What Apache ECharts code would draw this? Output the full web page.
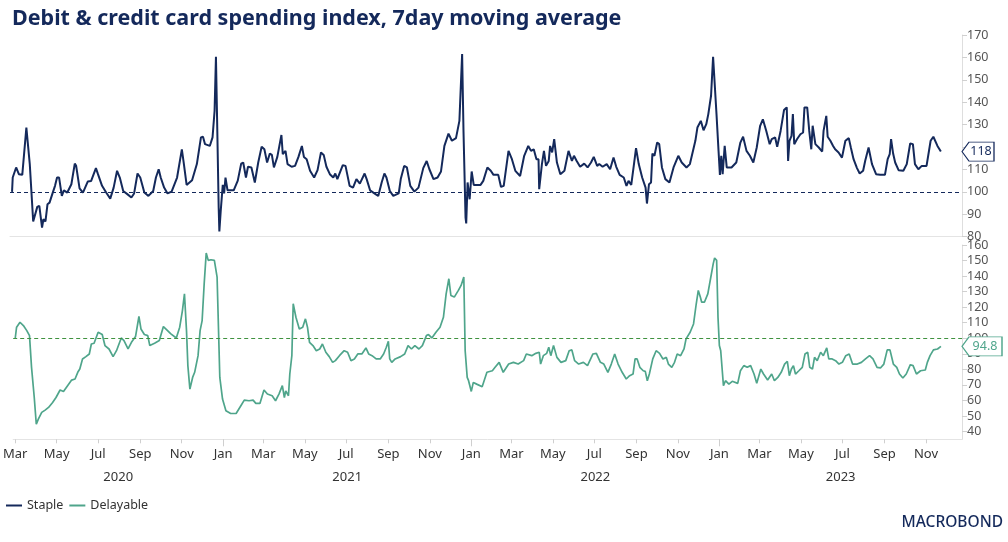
<!DOCTYPE html>
<html>
<head>
<meta charset="utf-8">
<script src="https://cdn.jsdelivr.net/npm/echarts@6/dist/echarts.min.js"></script>
<style>
html,body{margin:0;padding:0;background:#fff;}
#c{width:1008px;height:542px;}
</style>
</head>
<body>
<div id="c"></div>
<script>
const titleText = 'Debit & credit card spending index, 7day moving average';
const seriesNames = ['Staple', 'Delayable'];
const axisRange = ['2020-02-27', '2023-12-24'];
const monthTicks = ['2020-03-01','2020-05-01','2020-07-01','2020-09-01','2020-11-01',
  '2021-01-01','2021-03-01','2021-05-01','2021-07-01','2021-09-01','2021-11-01',
  '2022-01-01','2022-03-01','2022-05-01','2022-07-01','2022-09-01','2022-11-01',
  '2023-01-01','2023-03-01','2023-05-01','2023-07-01','2023-09-01','2023-11-01'];
const monthNames = ['Jan','Feb','Mar','Apr','May','Jun','Jul','Aug','Sep','Oct','Nov','Dec'];
const yearLabels = ['2020','2021','2022','2023'];
const yearStarts = ['2021-01-01','2022-01-01','2023-01-01'];
const topTicks = [80,90,100,110,120,130,140,150,160,170];
const bottomTicks = [40,50,60,70,80,90,100,110,120,130,140,150,160];
const refLevel = 100;

const staple = [
['2020-03-01',100],['2020-03-02',106.4],['2020-03-07',110.9],['2020-03-11',107.9],['2020-03-16',107.6],['2020-03-22',128.7],['2020-03-27',112.4],['2020-04-01',86.8],['2020-04-03',86.8],['2020-04-07',93.3],['2020-04-10',93.8],['2020-04-14',84.1],['2020-04-16',87.8],['2020-04-19',86.8],['2020-04-22',94.5],['2020-04-25',95.2],['2020-04-29',99],
['2020-05-03',102.7],['2020-05-06',106.4],['2020-05-09',106.4],['2020-05-13',98.2],['2020-05-16',100.7],['2020-05-21',99.7],['2020-05-27',103.4],['2020-06-01',112.6],['2020-06-03',111.6],['2020-06-08',101.6],['2020-06-13',99.7],['2020-06-20',104.6],['2020-06-25',104.9],
['2020-07-02',110.6],['2020-07-05',107.9],['2020-07-11',102.7],['2020-07-17',99.7],['2020-07-23',97],['2020-07-28',101.9],['2020-08-02',109.4],['2020-08-06',106.4],['2020-08-11',100.4],['2020-08-17',99],['2020-08-23',97.5],['2020-08-27',99.3],
['2020-09-01',108.2],['2020-09-05',106.4],['2020-09-11',99.7],['2020-09-17',98.2],['2020-09-24',100.4],['2020-09-28',106.4],['2020-10-02',110.1],['2020-10-05',106.4],['2020-10-10',101.9],['2020-10-15',99.3],['2020-10-21',100.1],['2020-10-29',106.4],
['2020-11-05',119],['2020-11-08',112.4],['2020-11-12',103.1],['2020-11-20',105.2],['2020-11-27',112.4],['2020-12-03',124.3],['2020-12-06',124.6],['2020-12-09',121.3],['2020-12-16',120.5],['2020-12-20',124.3],['2020-12-23',136.2],['2020-12-25',160.3],['2020-12-27',127.2],['2020-12-29',93],['2020-12-30',82.3],
['2021-01-01',91.5],['2021-01-04',103.1],['2021-01-06',99.3],['2021-01-08',106.4],['2021-01-11',100.7],['2021-01-20',100.7],['2021-01-26',105],['2021-01-31',112.6],['2021-02-03',113.1],['2021-02-07',106.4],['2021-02-10',111.2],['2021-02-15',110.9],['2021-02-20',104.2],['2021-02-25',113.1],
['2021-03-02',120.1],['2021-03-06',119],['2021-03-10',113.1],['2021-03-14',117.1],['2021-03-17',116.5],['2021-03-20',110.9],['2021-03-25',115.6],['2021-03-28',120.5],['2021-03-31',125.4],['2021-04-02',116.8],['2021-04-06',118.3],['2021-04-09',112.4],['2021-04-15',111.2],['2021-04-20',111.6],['2021-04-25',115.6],['2021-04-30',120.5],
['2021-05-03',115.6],['2021-05-07',114.6],['2021-05-12',109.4],['2021-05-18',106.4],['2021-05-23',109.7],['2021-05-28',117.6],['2021-06-01',116.5],['2021-06-05',111.2],['2021-06-10',107.9],['2021-06-15',106.4],['2021-06-18',108.2],['2021-06-21',105.7],['2021-06-29',111.9],
['2021-07-03',111.6],['2021-07-09',102.7],['2021-07-14',101.9],['2021-07-19',105.7],['2021-07-24',103.7],['2021-07-31',108.2],['2021-08-03',105.7],['2021-08-08',100.7],['2021-08-16',99],['2021-08-20',98.2],['2021-08-25',104.2],['2021-08-29',108.2],
['2021-09-01',106.4],['2021-09-06',100.4],['2021-09-11',98.2],['2021-09-19',99.3],['2021-09-22',105.7],['2021-09-27',111.6],['2021-10-01',110.9],['2021-10-06',102.7],['2021-10-12',100.1],['2021-10-18',101.9],['2021-10-25',110.6],['2021-10-30',113.8],
['2021-11-03',110.1],['2021-11-09',105.7],['2021-11-15',106.4],['2021-11-20',109.1],['2021-11-25',120.5],['2021-12-01',126],['2021-12-06',122.8],['2021-12-12',124],['2021-12-17',131.7],['2021-12-21',161.5],['2021-12-23',127.2],['2021-12-26',88.5],['2021-12-27',85.9],['2021-12-29',104.2],
['2022-01-01',96.7],['2022-01-04',109.1],['2022-01-07',103.1],['2022-01-17',103.1],['2022-01-21',104.9],['2022-01-27',110.9],['2022-02-01',109.4],['2022-02-05',107.6],['2022-02-12',107.6],['2022-02-16',102.2],['2022-02-20',102.7],['2022-02-27',118.3],
['2022-03-04',114.6],['2022-03-09',109.4],['2022-03-16',107.1],['2022-03-22',116.1],['2022-03-28',120.5],['2022-04-01',118.3],['2022-04-05',119],['2022-04-09',114.6],['2022-04-12',114.6],['2022-04-13',101.2],['2022-04-17',112.4],['2022-04-20',118.3],['2022-04-23',111.6],['2022-04-27',113.8],['2022-04-29',120.5],
['2022-05-02',117.6],['2022-05-05',123.5],['2022-05-09',113.1],['2022-05-14',107.9],['2022-05-20',109.4],['2022-05-26',118.3],['2022-05-31',113.8],['2022-06-03',116.1],['2022-06-07',113.8],['2022-06-12',111.2],['2022-06-18',112.6],['2022-06-23',110.9],['2022-06-28',113.1],
['2022-07-02',115.6],['2022-07-07',111.6],['2022-07-10',112.4],['2022-07-15',111.2],['2022-07-21',112.4],['2022-07-26',110.1],['2022-07-31',115.3],['2022-08-04',111.2],['2022-08-09',107.6],['2022-08-15',106.4],['2022-08-19',102.7],['2022-08-22',104.9],['2022-08-26',103.1],['2022-08-30',112.4],
['2022-09-02',119.5],['2022-09-06',112.4],['2022-09-11',106.4],['2022-09-16',101.9],['2022-09-18',94.8],['2022-09-21',103.4],['2022-09-24',104.2],['2022-09-26',117.1],['2022-09-29',116.1],['2022-10-03',122],['2022-10-06',121.3],['2022-10-10',110.9],['2022-10-15',105.7],['2022-10-21',104.2],['2022-10-27',110.9],
['2022-11-03',116.1],['2022-11-08',113.1],['2022-11-15',110.9],['2022-11-20',112.4],['2022-11-28',122.8],['2022-12-01',128.7],['2022-12-06',131.7],['2022-12-10',127.5],['2022-12-14',130.2],['2022-12-17',134.7],['2022-12-21',142.9],['2022-12-24',160.3],['2022-12-26',160.3],['2022-12-29',134.7],
['2023-01-01',118.3],['2023-01-03',107.6],['2023-01-05',116.1],['2023-01-07',107.9],['2023-01-10',120.5],['2023-01-13',110.9],['2023-01-20',110.9],['2023-01-27',113.1],['2023-02-02',122],['2023-02-06',124.6],['2023-02-11',118.3],['2023-02-16',116.1],['2023-02-21',113.1],['2023-02-26',119.8],
['2023-03-03',129.5],['2023-03-07',132.4],['2023-03-12',127.2],['2023-03-17',121.3],['2023-03-20',123.5],['2023-03-25',124.3],['2023-03-28',120.1],['2023-04-02',127.2],['2023-04-07',136.5],['2023-04-11',137.7],['2023-04-13',113.8],['2023-04-15',122.8],['2023-04-18',125],['2023-04-20',134.7],['2023-04-22',121.3],['2023-04-26',123.5],
['2023-05-01',125.7],['2023-05-05',126.5],['2023-05-07',137.7],['2023-05-11',137.7],['2023-05-14',127.2],['2023-05-17',119],['2023-05-19',129.5],['2023-05-23',121.3],['2023-05-28',119.8],['2023-06-02',118],['2023-06-04',127.2],['2023-06-06',128],['2023-06-08',133.9],['2023-06-10',124.6],['2023-06-14',122.8],['2023-06-18',120.5],['2023-06-21',119],['2023-06-26',117.6],
['2023-07-01',115.3],['2023-07-06',122.8],['2023-07-11',124],['2023-07-14',119.8],['2023-07-18',114.6],['2023-07-23',110.6],['2023-07-27',108.2],['2023-08-01',109.4],['2023-08-04',113.8],['2023-08-09',119.8],['2023-08-14',112.4],['2023-08-20',107.9],['2023-08-26',107.6],
['2023-09-02',107.6],['2023-09-06',114.6],['2023-09-09',116.8],['2023-09-11',123.5],['2023-09-14',117.1],['2023-09-17',113.1],['2023-09-22',109.7],['2023-09-29',109.4],['2023-10-04',112.4],['2023-10-09',121.6],['2023-10-13',121.3],['2023-10-16',112.4],['2023-10-21',110.1],['2023-10-26',111.6],
['2023-11-02',111.6],['2023-11-08',122.8],['2023-11-12',124.6],['2023-11-18',120.5],['2023-11-23',118]
];

const delayable = [
['2020-03-01',100],['2020-03-03',107.1],['2020-03-08',110.3],['2020-03-13',108.2],['2020-03-18',104.9],['2020-03-22',101.7],['2020-03-25',81.3],['2020-03-29',61.9],['2020-04-01',44.7],['2020-04-04',48],['2020-04-09',52.3],['2020-04-14',53.8],['2020-04-19',55.5],['2020-04-25',58.7],['2020-04-30',61.9],
['2020-05-06',66.7],['2020-05-11',65.8],['2020-05-17',69.5],['2020-05-23',73.1],['2020-05-28',73.8],['2020-06-01',78.1],['2020-06-04',80.2],['2020-06-08',86.7],['2020-06-13',88.2],['2020-06-18',89.9],['2020-06-21',96.3],['2020-06-25',96.8],
['2020-07-01',103.9],['2020-07-07',102.4],['2020-07-11',95.3],['2020-07-17',93.1],['2020-07-23',88.2],['2020-07-28',92],['2020-08-04',100.2],['2020-08-08',98.5],['2020-08-14',93.1],['2020-08-19',97.4],['2020-08-25',101.1],['2020-08-30',114],
['2020-09-02',106],['2020-09-07',102.4],['2020-09-12',101.7],['2020-09-15',95.3],['2020-09-22',96.8],['2020-09-29',98.5],['2020-10-05',107.5],['2020-10-10',105.4],['2020-10-16',102.8],['2020-10-24',100.2],['2020-10-29',107.1],
['2020-11-02',117.8],['2020-11-05',128.6],['2020-11-08',104.9],['2020-11-10',82.4],['2020-11-13',67.3],['2020-11-17',74.8],['2020-11-20',78.1],['2020-11-25',88.8],['2020-11-28',104.9],['2020-12-01',111.4],['2020-12-04',135],['2020-12-07',154.8],['2020-12-10',150.1],['2020-12-14',150.5],['2020-12-19',150.1],['2020-12-23',139.4],['2020-12-27',74.8],['2020-12-31',60.9],
['2021-01-05',53.3],['2021-01-12',51.6],['2021-01-20',51.6],['2021-01-27',56.6],['2021-02-01',60.2],['2021-02-08',59.8],['2021-02-14',60.2],['2021-02-18',58.1],['2021-02-24',58.1],
['2021-03-02',66.7],['2021-03-07',64.1],['2021-03-14',63],['2021-03-19',59.8],['2021-03-24',64.1],['2021-03-29',69.5],['2021-04-01',61.9],['2021-04-03',66.2],['2021-04-07',63],['2021-04-09',77],['2021-04-12',88.8],['2021-04-14',122.2],['2021-04-18',113.5],['2021-04-23',106],['2021-04-28',107.1],
['2021-05-02',112.5],['2021-05-05',107.1],['2021-05-08',97.4],['2021-05-13',95.3],['2021-05-18',92],['2021-05-23',93.1],['2021-05-27',96.3],['2021-06-01',91],['2021-06-06',88.2],['2021-06-11',84.5],['2021-06-15',85.6],['2021-06-21',88.8],['2021-06-28',92],
['2021-07-03',91],['2021-07-08',85.6],['2021-07-13',86.7],['2021-07-18',89.9],['2021-07-24',89.9],['2021-07-30',93.8],['2021-08-03',89.9],['2021-08-08',88.8],['2021-08-14',86.7],['2021-08-20',86.7],['2021-08-25',89.9],['2021-08-29',94.2],
['2021-09-01',98.1],['2021-09-03',86.7],['2021-09-06',84.5],['2021-09-11',86.7],['2021-09-19',88.2],['2021-09-25',89.9],['2021-09-30',95.3],['2021-10-05',93.1],['2021-10-10',95.3],['2021-10-16',93.1],['2021-10-21',95.3],['2021-10-27',101.7],['2021-10-30',102.4],
['2021-11-04',100.2],['2021-11-10',103.9],['2021-11-16',107.1],['2021-11-21',113.5],['2021-11-25',128.6],['2021-11-29',138.3],['2021-12-02',127.5],['2021-12-07',126.5],['2021-12-13',130.8],['2021-12-17',134],['2021-12-21',139.4],['2021-12-23',92],['2021-12-26',74.8],['2021-12-28',72.7],
['2022-01-01',65.8],['2022-01-04',71.6],['2022-01-09',70.5],['2022-01-17',68.8],['2022-01-24',78.1],['2022-02-01',79.1],['2022-02-05',81.3],['2022-02-11',84.5],['2022-02-17',78.1],['2022-02-25',83.4],
['2022-03-04',84.5],['2022-03-11',83.4],['2022-03-19',85.6],['2022-03-23',89.9],['2022-03-31',88.8],['2022-04-06',90.3],['2022-04-11',91],['2022-04-13',83.4],['2022-04-17',88.8],['2022-04-22',90.3],['2022-04-25',94.2],['2022-04-28',88.8],
['2022-05-02',95.3],['2022-05-07',87.7],['2022-05-13',84.5],['2022-05-20',85.6],['2022-05-25',92],['2022-05-29',92.5],['2022-06-02',85.6],['2022-06-08',83.4],['2022-06-15',84.5],['2022-06-21',82.4],['2022-06-29',89.9],
['2022-07-04',90.3],['2022-07-10',84.5],['2022-07-15',83.4],['2022-07-21',78.1],['2022-07-26',83.4],['2022-07-31',89.9],['2022-08-05',83.4],['2022-08-11',78.1],['2022-08-17',73.8],['2022-08-22',75.9],['2022-08-27',77],['2022-08-30',86.7],
['2022-09-02',86.7],['2022-09-06',81.3],['2022-09-11',79.1],['2022-09-14',78.7],['2022-09-17',72.7],['2022-09-20',77],['2022-09-25',86.7],['2022-09-30',92],['2022-10-05',90.3],['2022-10-10',86.7],['2022-10-15',87.7],['2022-10-18',83.4],['2022-10-23',81.3],['2022-10-27',84.5],['2022-10-31',89.9],
['2022-11-05',88.8],['2022-11-10',93.1],['2022-11-13',99.6],['2022-11-19',103.9],['2022-11-24',109.2],['2022-11-28',122.2],['2022-12-01',130.8],['2022-12-04',126.5],['2022-12-06',123.2],['2022-12-10',123.2],['2022-12-15',128.6],['2022-12-19',138.3],['2022-12-23',148],['2022-12-25',151.6],['2022-12-28',150.1],['2022-12-30',113.5],
['2023-01-01',95.3],['2023-01-03',92],['2023-01-07',69.5],['2023-01-10',72.7],['2023-01-15',70.5],['2023-01-20',72.3],['2023-01-28',71],['2023-02-01',79.1],['2023-02-06',82.4],['2023-02-11',81.3],['2023-02-16',82.4],['2023-02-21',77],['2023-02-25',71],
['2023-03-03',80.2],['2023-03-07',77],['2023-03-13',73.1],['2023-03-19',77],['2023-03-23',72.7],['2023-03-28',74.8],['2023-04-02',78.1],['2023-04-07',83.4],['2023-04-11',85.2],['2023-04-14',75.9],['2023-04-17',80.2],['2023-04-20',82.4],['2023-04-23',77],['2023-04-28',79.1],
['2023-05-03',81.3],['2023-05-07',89.9],['2023-05-11',91],['2023-05-14',81.3],['2023-05-18',80.2],['2023-05-21',87.7],['2023-05-25',85.6],['2023-05-30',91],['2023-06-03',88.8],['2023-06-08',93.8],['2023-06-11',86.7],['2023-06-16',86.7],['2023-06-21',85.6],['2023-06-26',83.4],
['2023-07-01',84.5],['2023-07-06',88.8],['2023-07-11',89.9],['2023-07-16',83.4],['2023-07-23',83.4],['2023-07-29',84.5],['2023-08-04',86.7],['2023-08-10',88.8],['2023-08-15',86.7],['2023-08-21',81.3],['2023-08-26',80.9],['2023-08-31',83.4],
['2023-09-05',92.5],['2023-09-09',92.5],['2023-09-14',83.4],['2023-09-19',81.3],['2023-09-23',77],['2023-09-28',74.4],['2023-10-03',77],['2023-10-09',83],['2023-10-13',82.4],['2023-10-18',77],['2023-10-24',79.1],['2023-10-31',79.6],
['2023-11-03',84.5],['2023-11-07',88.8],['2023-11-12',92.5],['2023-11-18',93.1],['2023-11-23',94.8]
];

const NAVY = '#14295b';
const TEAL = '#4fa58b';
const DASH_GREEN = '#3f923f';
const FONT = 'Noto Sans';

function ts(s){ const p = s.split('-'); return Date.UTC(+p[0], +p[1]-1, +p[2]); }
const xMin = ts(axisRange[0]), xMax = ts(axisRange[1]);
const bounds = [xMin].concat(yearStarts.map(ts)).concat([xMax]);
const yearMids = yearLabels.map((y, i) => (bounds[i] + bounds[i+1]) / 2);
const monthVals = monthTicks.map(ts);

function tag(series, color, width) {
  const last = series[series.length - 1];
  return {
    symbol: 'path://M0,10 L7,0 L' + width + ',0 L' + width + ',20 L7,20 Z',
    symbolSize: [width, 19],
    symbolKeepAspect: false,
    symbolOffset: [width / 2, 0],
    silent: true,
    itemStyle: { color: '#fff', borderColor: color, borderWidth: 1 },
    label: { show: true, position: 'inside', offset: [3, 0], color: color, fontSize: 12.5, fontFamily: FONT,
      formatter: () => String(last[1]) },
    data: [{ coord: [xMax, last[1]] }]
  };
}

const chart = echarts.init(document.getElementById('c'), null, { renderer: 'canvas' });
const axisCommonY = {
  type: 'value', position: 'right',
  axisLine: { show: true, lineStyle: { color: '#dedede', width: 1 } },
  axisTick: { show: true, length: 5, lineStyle: { color: '#d0d0d0' } },
  axisLabel: { color: '#555', fontSize: 12.5, fontFamily: FONT, margin: 5 },
  splitLine: { show: false }
};
chart.setOption({
  animation: false,
  backgroundColor: '#fff',
  title: { text: titleText, left: 7, top: 3,
    textStyle: { color: NAVY, fontSize: 21.5, fontWeight: 'bold', fontFamily: FONT } },
  legend: {
    data: seriesNames, left: 1, top: 494, itemWidth: 16, itemHeight: 2, itemGap: 6, icon: 'rect',
    textStyle: { color: '#333', fontSize: 12.5, fontFamily: FONT }
  },
  grid: [
    { left: 10, right: 46, top: 35, height: 201.7 },
    { left: 10, right: 46, top: 245, height: 194.3 }
  ],
  xAxis: [
    { type: 'value', gridIndex: 0, position: 'bottom', min: xMin, max: xMax,
      axisLine: { show: true, lineStyle: { color: '#e4e4e4' } }, axisTick: { show: false },
      axisLabel: { show: false }, splitLine: { show: false } },
    { type: 'value', gridIndex: 1, position: 'bottom', min: xMin, max: xMax,
      axisLine: { show: true, lineStyle: { color: '#e4e4e4' } },
      axisTick: { show: true, length: 4, lineStyle: { color: '#cfcfcf' }, customValues: monthVals },
      axisLabel: { show: true, customValues: monthVals, color: '#333', fontSize: 13, fontFamily: FONT, margin: 8,
        hideOverlap: false,
        formatter: v => monthNames[new Date(v).getUTCMonth()] },
      splitLine: { show: false } },
    { type: 'value', gridIndex: 1, position: 'bottom', offset: 0, min: xMin, max: xMax,
      axisLine: { show: false },
      axisTick: { show: true, length: 7, lineStyle: { color: '#cfcfcf' }, customValues: yearStarts.map(ts) },
      axisLabel: { show: true, customValues: yearMids, color: '#333', fontSize: 13, fontFamily: FONT, margin: 31,
        hideOverlap: false,
        formatter: v => { let best = 0; yearMids.forEach((m, i) => { if (Math.abs(m - v) < Math.abs(yearMids[best] - v)) best = i; }); return yearLabels[best]; } },
      splitLine: { show: false } }
  ],
  yAxis: [
    Object.assign({}, axisCommonY, { gridIndex: 0, min: 80, max: 170,
      axisLabel: Object.assign({}, axisCommonY.axisLabel, { customValues: topTicks }),
      axisTick: Object.assign({}, axisCommonY.axisTick, { customValues: topTicks }) }),
    Object.assign({}, axisCommonY, { gridIndex: 1, min: 35, max: 160,
      axisLabel: Object.assign({}, axisCommonY.axisLabel, { customValues: bottomTicks }),
      axisTick: Object.assign({}, axisCommonY.axisTick, { customValues: bottomTicks }) })
  ],
  series: [
    { name: seriesNames[0], type: 'line', xAxisIndex: 0, yAxisIndex: 0,
      data: staple.map(d => [ts(d[0]), d[1]]), showSymbol: false, symbol: 'none',
      lineStyle: { color: NAVY, width: 2 }, itemStyle: { color: NAVY },
      markLine: { silent: true, symbol: 'none', label: { show: false },
        lineStyle: { color: NAVY, type: [4, 3], width: 1.2 }, data: [{ yAxis: refLevel }] },
      markPoint: tag(staple, NAVY, 32) },
    { name: seriesNames[1], type: 'line', xAxisIndex: 1, yAxisIndex: 1,
      data: delayable.map(d => [ts(d[0]), d[1]]), showSymbol: false, symbol: 'none',
      lineStyle: { color: TEAL, width: 1.7 }, itemStyle: { color: TEAL },
      markLine: { silent: true, symbol: 'none', label: { show: false },
        lineStyle: { color: DASH_GREEN, type: [4, 3], width: 1.2 }, data: [{ yAxis: refLevel }] },
      markPoint: tag(delayable, TEAL, 40) }
  ],
  graphic: [
    { type: 'text', right: 5, top: 515,
      style: { text: 'MACROBOND', fill: NAVY, fontSize: 15.5, fontWeight: 500, fontFamily: FONT } }
  ]
});
</script>
</body>
</html>
